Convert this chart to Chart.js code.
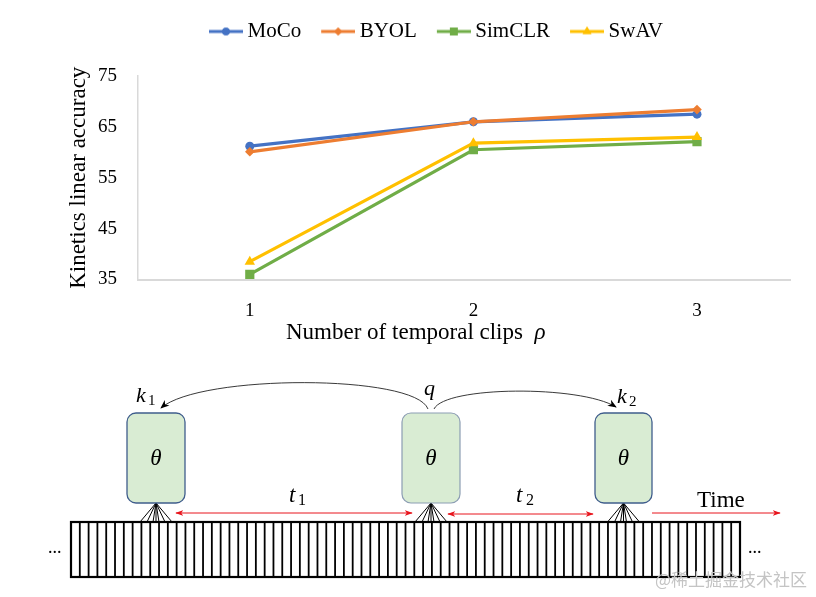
<!DOCTYPE html>
<html><head><meta charset="utf-8">
<script src="https://cdn.jsdelivr.net/npm/chart.js@4"></script>
<style>
html,body{margin:0;padding:0;background:#fff;width:816px;height:597px;overflow:hidden;}
#wrap{position:absolute;left:0;top:0;width:816px;height:350px;}
#xt{position:absolute;top:320px;left:286px;font:23px "Liberation Serif";line-height:24px;white-space:nowrap;color:#000;}
svg{position:absolute;left:0;top:0;}
</style></head><body>
<div id="wrap"><canvas id="c" width="816" height="350"></canvas></div>
<div id="xt">Number of temporal clips&nbsp;&nbsp;<i>ρ</i></div>
<svg id="dg" width="816" height="597" viewBox="0 0 816 597" font-family="Liberation Serif">
<defs>
<marker id="ab" viewBox="0 0 10 10" refX="9" refY="5" markerWidth="9" markerHeight="9" markerUnits="userSpaceOnUse" orient="auto-start-reverse"><path d="M0,1 L10,5 L0,9 L3,5z" fill="#000"/></marker>
<marker id="ar" viewBox="0 0 10 10" refX="9" refY="5" markerWidth="8" markerHeight="8" markerUnits="userSpaceOnUse" orient="auto-start-reverse"><path d="M0,1.5 L10,5 L0,8.5 L2.5,5z" fill="#e8141c"/></marker>
</defs>
<path d="M428,409 C415,374 200,374 161,408" fill="none" stroke="#222" stroke-width="0.9" marker-end="url(#ab)"/>
<path d="M434,409 C445,386 580,385 616,407" fill="none" stroke="#222" stroke-width="0.9" marker-end="url(#ab)"/>
<g id="tape"></g>
<g id="fans" stroke="#000" stroke-width="1"></g>
<rect x="127" y="413" width="58" height="90" rx="9" fill="#d9ecd3" stroke="#3f5d8c" stroke-width="1.3"/>
<rect x="402" y="413" width="58" height="90" rx="9" fill="#d9ecd3" stroke="#8c9db3" stroke-width="1.2"/>
<rect x="595" y="413" width="57" height="90" rx="9" fill="#d9ecd3" stroke="#3f5d8c" stroke-width="1.3"/>
<g font-style="italic" font-size="23" text-anchor="middle">
<text x="156" y="465">θ</text><text x="431" y="465">θ</text><text x="623.5" y="465">θ</text>
</g>
<text x="136" y="402" font-size="22" font-style="italic">k</text><text x="148" y="405" font-size="15">1</text>
<text x="424" y="395" font-size="22" font-style="italic">q</text>
<text x="617" y="403" font-size="22" font-style="italic">k</text><text x="629" y="406" font-size="15">2</text>
<text x="289" y="502" font-size="23" font-style="italic">t</text><text x="298" y="505" font-size="16">1</text>
<text x="516" y="502" font-size="23" font-style="italic">t</text><text x="526" y="505" font-size="16">2</text>
<text x="697" y="507" font-size="23">Time</text>
<line x1="176" y1="513" x2="412" y2="513" stroke="#e8141c" stroke-width="1" marker-start="url(#ar)" marker-end="url(#ar)"/>
<line x1="448" y1="514" x2="593" y2="514" stroke="#e8141c" stroke-width="1" marker-start="url(#ar)" marker-end="url(#ar)"/>
<line x1="652" y1="513" x2="780" y2="513" stroke="#e8141c" stroke-width="1" marker-end="url(#ar)"/>
<text x="48" y="553" font-size="18">...</text>
<text x="748" y="553" font-size="18">...</text>
<text x="655" y="586" font-size="17" fill="#c4c4c4" font-family="Noto Sans CJK SC">@稀土掘金技术社区</text>
</svg>
<script>
const clips = [1, 2, 3];
const moco = [61.2, 66.0, 67.5];
const byol = [60.1, 66.0, 68.4];
const simclr = [36.0, 60.5, 62.1];
const swav = [38.5, 61.8, 63.0];
const yTicks = [35, 45, 55, 65, 75];
const seriesNames = ['MoCo', 'BYOL', 'SimCLR', 'SwAV'];
const seriesColors = ['#4472C4', '#ED7D31', '#70AD47', '#FFC000'];
const seriesMarkers = ['circle', 'rectRot', 'rect', 'triangle'];
const seriesRadius = [4.5, 4.8, 6.5, 6];

// diagram tape & fans
(function(){
  const ns = 'http://www.w3.org/2000/svg';
  const tape = document.getElementById('tape');
  const x0 = 71, x1 = 740, y0 = 522, y1 = 577, n = 76;
  const r = document.createElementNS(ns, 'rect');
  r.setAttribute('x', x0); r.setAttribute('y', y0); r.setAttribute('width', x1 - x0); r.setAttribute('height', y1 - y0);
  r.setAttribute('fill', '#fff'); r.setAttribute('stroke', '#000'); r.setAttribute('stroke-width', '2.2');
  tape.appendChild(r);
  for (let i = 1; i < n; i++) {
    const x = x0 + i * (x1 - x0) / n;
    const l = document.createElementNS(ns, 'line');
    l.setAttribute('x1', x); l.setAttribute('x2', x); l.setAttribute('y1', y0); l.setAttribute('y2', y1);
    l.setAttribute('stroke', '#000'); l.setAttribute('stroke-width', '1.8');
    tape.appendChild(l);
  }
  const fans = document.getElementById('fans');
  [156, 431, 623.5].forEach(cx => {
    [-16, -9, -3, 0, 3, 9, 16].forEach(o => {
      const l = document.createElementNS(ns, 'line');
      l.setAttribute('x1', cx); l.setAttribute('y1', 503); l.setAttribute('x2', cx + o); l.setAttribute('y2', 522);
      fans.appendChild(l);
    });
  });
})();

function legendImage(color, marker, radius) {
  const c = document.createElement('canvas');
  c.width = 52; c.height = 16;
  const g = c.getContext('2d');
  g.strokeStyle = color; g.lineWidth = 3;
  g.beginPath(); g.moveTo(18, 8); g.lineTo(52, 8); g.stroke();
  g.fillStyle = color;
  Chart.helpers.drawPoint(g, {pointStyle: marker, radius: radius * 0.85, rotation: 0, borderWidth: 0}, 35, 8);
  g.fill();
  return c;
}

const all = [moco, byol, simclr, swav];
const orders = [1, 0, 3, 2];
const datasets = all.map((vals, i) => ({
  label: seriesNames[i],
  data: clips.map((c, j) => ({x: c, y: vals[j]})),
  borderColor: seriesColors[i],
  backgroundColor: seriesColors[i],
  pointStyle: seriesMarkers[i],
  pointRadius: seriesRadius[i],
  pointBorderWidth: 0,
  borderWidth: 3.2,
  order: orders[i],
  tension: 0
}));

const legendSpace = {
  id: 'legendSpace',
  beforeInit(chart) {
    const orig = chart.legend.fit;
    chart.legend.fit = function() { orig.call(this); this.height += 24; };
  }
};

new Chart(document.getElementById('c'), {
  type: 'line',
  data: {datasets},
  plugins: [legendSpace],
  options: {
    responsive: false,
    animation: false,
    layout: {padding: {left: 70, right: 26, top: 13, bottom: 0}},
    plugins: {
      tooltip: {enabled: false},
      legend: {
        position: 'top',
        labels: {
          usePointStyle: true,
          pointStyleWidth: 40,
          padding: 8,
          color: '#000',
          font: {family: 'Liberation Serif', size: 21},
          generateLabels: (chart) => seriesNames.map((n, i) => ({
            text: n, datasetIndex: i, fillStyle: seriesColors[i], strokeStyle: seriesColors[i],
            lineWidth: 0, hidden: false, fontColor: '#000',
            pointStyle: legendImage(seriesColors[i], seriesMarkers[i], seriesRadius[i])
          }))
        }
      }
    },
    scales: {
      x: {
        type: 'linear', min: 0.5, max: 3.416,
        afterBuildTicks: (s) => { s.ticks = clips.map(v => ({value: v})); },
        afterFit: (s) => { s.height = 70.5; },
        grid: {display: false, drawTicks: false},
        border: {display: true, color: '#d9d9d9', width: 2},
        ticks: {padding: 20, color: '#000', font: {family: 'Liberation Serif', size: 19}}
      },
      y: {
        min: 35, max: 75,
        afterBuildTicks: (s) => { s.ticks = yTicks.map(v => ({value: v})); },
        afterFit: (s) => { s.width = 68; },
        grid: {display: false, drawTicks: false},
        border: {display: true, color: '#d9d9d9', width: 1.5},
        ticks: {padding: 21, color: '#000', font: {family: 'Liberation Serif', size: 19}},
        title: {display: true, text: 'Kinetics linear accuracy', color: '#000',
          font: {family: 'Liberation Serif', size: 23, lineHeight: 1}, padding: {top: -2.5, bottom: 0}}
      }
    }
  }
});
</script>
</body></html>
